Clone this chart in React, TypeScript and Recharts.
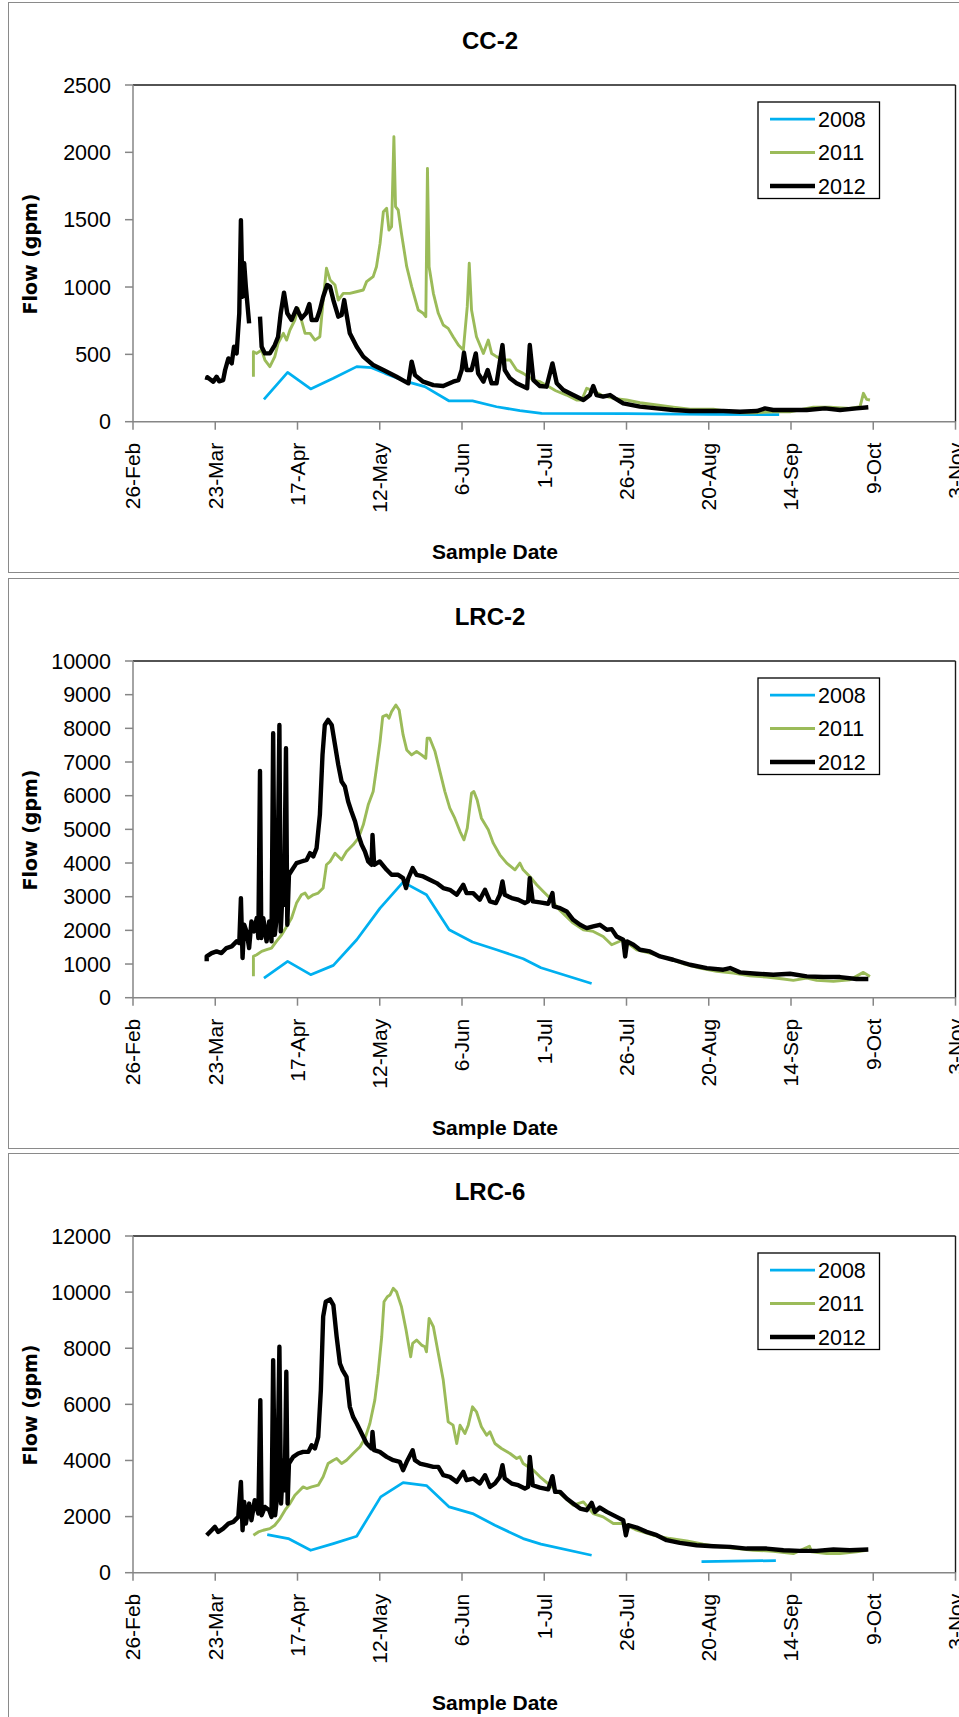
import React from 'react';
import { LineChart, Line, XAxis, YAxis, ReferenceLine } from 'recharts';

// Day offsets counted from 26-Feb; flow in gpm. [day, flow]; [day, null] marks a gap.
const X_TICK_DAYS = [0, 25, 50, 75, 100, 125, 150, 175, 200, 225, 250];
const X_TICK_LABELS = ['26-Feb', '23-Mar', '17-Apr', '12-May', '6-Jun', '1-Jul', '26-Jul', '20-Aug', '14-Sep', '9-Oct', '3-Nov'];

const CC2_Y_TICKS = [0, 500, 1000, 1500, 2000, 2500];
const LRC2_Y_TICKS = [0, 1000, 2000, 3000, 4000, 5000, 6000, 7000, 8000, 9000, 10000];
const LRC6_Y_TICKS = [0, 2000, 4000, 6000, 8000, 10000, 12000];

const SERIES_NAMES = ['2008', '2011', '2012'];

const CC2_2008: [number, number | null][] = [
  [39.8, 166], [47, 366], [54, 243], [60.9, 322], [68, 409], [72.5, 401], [76.6, 359], [83.2, 297], [88.7, 260],
  [96.1, 154], [103.2, 154], [110.5, 111], [117.6, 82], [124.2, 62], [150, 60], [175, 55], [196.4, 52],
];
const CC2_2011: [number, number | null][] = [
  [36.6, 334], [36.6, 520], [37.6, 507], [39.1, 532], [40.1, 458], [41.6, 409], [43.1, 483], [44.1, 582], [45.7, 656],
  [46.7, 606], [47.7, 681], [49.2, 755], [50.2, 842], [51.2, 755], [52.3, 656], [53.8, 656], [55.3, 606], [56.8, 631],
  [57.8, 903], [58.8, 1139], [59.9, 1052], [61.4, 1015], [62.4, 903], [63.9, 953], [65.9, 953], [67.9, 965], [70, 978],
  [71, 1040], [73, 1077], [74, 1151], [75.1, 1324], [76.1, 1559], [77.1, 1584], [77.8, 1423], [78.6, 1448], [79.3, 2116],
  [79.8, 1597], [80.6, 1572], [81.6, 1398], [83.2, 1151], [84.7, 1003], [86.7, 829], [88.2, 805], [89, 780], [89.5, 1881],
  [90, 1151], [91.3, 953], [92.8, 805], [94.3, 718], [95.8, 693], [97.3, 631], [98.9, 569], [100.4, 532], [101.6, 854],
  [102.2, 1176], [102.9, 829], [104.4, 631], [106.5, 507], [108, 606], [109, 507], [110.5, 483], [112.5, 458], [114.6, 458],
  [116.6, 384], [118.6, 359], [121.7, 309], [123.7, 297], [126.7, 255], [128.5, 230], [131.8, 198], [134.8, 161],
  [136.4, 161], [137.9, 248], [139.4, 235], [142.4, 198], [146, 173], [150, 161], [154.1, 141], [159.2, 124], [164.2, 107],
  [169.3, 92], [176.4, 92], [179.4, 82], [184.5, 67], [189.6, 67], [194.6, 74], [199.7, 74], [206.8, 107], [211.8, 107],
  [217.9, 99], [221, 112], [222, 211], [223, 166], [224, 161],
];
const CC2_2012: [number, number | null][] = [
  [22.4, 309], [22.6, 330], [24.4, 297], [25.4, 334], [26.2, 300], [27.4, 309], [28, 384], [29, 470], [30, 433],
  [30.7, 557], [31.5, 507], [32.3, 805], [32.8, 1497], [33.3, 928], [33.8, 1176], [34.3, 1002], [35.3, 730], [37, null],
  [38.6, 780], [39.1, 557], [40.1, 507], [41.6, 507], [43.1, 569], [44.1, 631], [44.9, 805], [45.9, 958], [46.9, 805],
  [48.2, 755], [49.7, 842], [51.2, 767], [52.6, 805], [53.6, 874], [54.3, 755], [55.8, 755], [56.8, 829], [57.8, 928],
  [59, 1015], [59.9, 1002], [60.9, 903], [62.4, 780], [63.4, 792], [64.2, 903], [64.7, 829], [65.9, 656], [68, 557],
  [70, 483], [73, 421], [76.1, 384], [80.1, 334], [83.7, 285], [84.7, 446], [85.7, 346], [88.2, 297], [91.3, 272],
  [94.3, 265], [97.3, 297], [98.9, 309], [99.9, 384], [100.6, 512], [101.4, 384], [102.9, 384], [104.2, 507], [104.9, 359],
  [106.5, 297], [107.8, 384], [109, 285], [110.5, 285], [112.3, 569], [113, 384], [114.6, 322], [116.6, 285], [119.8, 248],
  [120.6, 569], [121.7, 309], [123.7, 265], [125.7, 260], [127.5, 433], [128.8, 285], [130.8, 235], [133.8, 198],
  [136.9, 161], [138.9, 198], [139.9, 265], [140.9, 198], [142.9, 186], [145, 198], [146.5, 173], [149, 136], [154.1, 112],
  [159.2, 99], [164.2, 87], [169.3, 79], [174.4, 79], [179.4, 79], [184.5, 74], [189.6, 79], [192.1, 99], [194.6, 87],
  [199.7, 87], [204.8, 87], [210.3, 99], [214.9, 87], [219.9, 99], [223.5, 107],
];

const LRC2_2008: [number, number | null][] = [
  [39.8, 585], [47, 1079], [54, 684], [60.9, 960], [68, 1722], [75.1, 2662], [82.1, 3433], [89.2, 3057], [96.1, 2019],
  [103.2, 1653], [110.5, 1425], [118.6, 1158], [124, 890], [139.4, 420],
];
const LRC2_2011: [number, number | null][] = [
  [36.6, 634], [36.6, 1228], [37.6, 1277], [39.1, 1376], [40.6, 1425], [42.1, 1475], [43.6, 1673], [45.2, 1870],
  [46.7, 2117], [48.2, 2365], [49.7, 2810], [51.2, 3057], [52.3, 3107], [53.3, 2958], [54.8, 3057], [56.3, 3107],
  [57.8, 3255], [58.8, 3947], [59.9, 4046], [61.4, 4293], [62.4, 4195], [63.4, 4096], [64.9, 4343], [66.9, 4541],
  [68.5, 4739], [70, 5134], [71.5, 5728], [73, 6123], [74, 6816], [75.1, 7607], [75.9, 8349], [77.1, 8398], [77.8, 8299],
  [78.6, 8497], [79.9, 8694], [80.9, 8546], [82.1, 7804], [83.2, 7359], [84.7, 7211], [86.2, 7310], [87.7, 7211],
  [89, 7112], [89.4, 7705], [90.2, 7705], [91.8, 7310], [93.3, 6717], [94.8, 6123], [96.3, 5629], [97.8, 5332],
  [99.4, 4936], [100.6, 4689], [101.6, 5035], [102.9, 6074], [103.6, 6123], [104.6, 5876], [105.9, 5332], [108, 4986],
  [109.5, 4590], [111.5, 4244], [113.6, 3997], [116.1, 3799], [117.6, 3997], [118.6, 3799], [120.6, 3601], [122.7, 3354],
  [124.7, 3156], [126.7, 2958], [129.8, 2590], [133.8, 2216], [136.9, 2018], [139.9, 1968], [142.9, 1820], [145.5, 1573],
  [149, 1721], [153.1, 1424], [157.1, 1325], [162.2, 1177], [167.3, 1009], [172.3, 880], [177.4, 781], [182.5, 732],
  [187.5, 653], [192.6, 613], [197.7, 554], [200.7, 514], [204.8, 584], [207.8, 514], [212.9, 485], [217.9, 534],
  [222, 752], [224, 633],
];
const LRC2_2012: [number, number | null][] = [
  [22.4, 1079], [22.4, 1228], [23.9, 1326], [25.4, 1376], [26.9, 1326], [28.4, 1475], [30, 1524], [31.5, 1673],
  [32.3, 1623], [32.8, 2958], [33.3, 1178], [33.8, 2167], [34.5, 1969], [35.3, 1475], [36, 2266], [36.8, 1969],
  [37.6, 2365], [38.1, 1771], [38.6, 6736], [39, 1771], [39.6, 2365], [40.6, 1673], [41.4, 2266], [42.1, 1673],
  [42.6, 7854], [43.1, 1870], [43.8, 2464], [44.5, 8101], [44.9, 1969], [45.5, 3255], [45.9, 2761], [46.5, 7409],
  [46.9, 2167], [47.4, 3650], [48.7, 3848], [49.7, 3997], [51.2, 4046], [52.8, 4096], [53.8, 4293], [54.8, 4195],
  [55.8, 4442], [56.8, 5431], [57.6, 7211], [58.3, 8101], [59.3, 8250], [60.4, 8101], [61.4, 7508], [62.4, 6914],
  [63.4, 6420], [64.4, 6271], [65.4, 5826], [66.4, 5530], [67.5, 5233], [68.5, 4837], [69.5, 4541], [70.5, 4343],
  [71.5, 4046], [72.5, 3947], [72.8, 4837], [73.3, 3947], [75, 4046], [77.1, 3799], [78.6, 3650], [80.6, 3650],
  [82.1, 3552], [83, 3255], [83.7, 3552], [85, 3848], [86.2, 3650], [88.2, 3601], [90.2, 3502], [92.3, 3403],
  [94.3, 3255], [96.3, 3205], [98.4, 3057], [100.4, 3354], [101.4, 3107], [103.4, 3107], [105.4, 2909], [107, 3205],
  [108.5, 2860], [110.3, 2810], [111.5, 3057], [112.3, 3453], [113, 3057], [115.1, 2958], [117.1, 2909], [119.1, 2810],
  [120.1, 2860], [120.6, 3552], [121.5, 2860], [123.7, 2830], [126.2, 2790], [127.5, 3106], [127.9, 2710], [129.8, 2661],
  [131.8, 2562], [133.8, 2314], [135.9, 2166], [137.9, 2067], [139.9, 2117], [141.9, 2166], [144, 2018], [145.5, 2037],
  [147, 1820], [149, 1721], [149.6, 1226], [150.2, 1672], [152.1, 1573], [154.1, 1424], [157.1, 1375], [160.2, 1226],
  [164.2, 1127], [169.3, 979], [174.4, 880], [179.4, 831], [181.5, 880], [184.5, 752], [189.6, 712], [194.6, 683],
  [199.7, 712], [204.8, 633], [209.8, 613], [214.9, 613], [219.9, 554], [223.5, 554],
];

const LRC6_2008: [number, number | null][] = [
  [40.8, 1359], [47.2, 1216], [54, 800], [60.9, 1038], [68, 1299], [75.3, 2702], [82.1, 3213], [89.2, 3106],
  [96.1, 2345], [103.2, 2108], [110, 1691], [118.6, 1216], [124, 1020], [139.4, 622], [156, null], [172.8, 397], [195.4, 432],
];
const LRC6_2011: [number, number | null][] = [
  [36.6, 1335], [38.1, 1453], [39.6, 1513], [41.6, 1572], [43.1, 1691], [44.7, 1929], [46.2, 2227], [47.7, 2464],
  [49.2, 2761], [50.7, 2940], [51.7, 3059], [52.8, 3000], [54.3, 3059], [56.3, 3118], [57.8, 3416], [59.3, 3891],
  [60.9, 4010], [61.9, 4070], [63.4, 3891], [64.9, 4010], [66.9, 4248], [69, 4486], [70.5, 4783], [72, 5318],
  [73.5, 6150], [74.5, 7101], [75.6, 8409], [76.3, 9658], [77.3, 9836], [78.1, 9896], [79.1, 10133], [80.1, 10014],
  [81.6, 9479], [83, 8647], [83.7, 8171], [84.4, 7696], [85, 8171], [86.2, 8290], [87.7, 8112], [88.7, 8053],
  [89.2, 7874], [90, 9063], [91.3, 8766], [92.8, 7815], [94.3, 6864], [95.8, 5377], [97.3, 5258], [98.4, 4604],
  [99.4, 5258], [100.9, 4961], [101.9, 5258], [103.2, 5912], [104.4, 5734], [105.9, 5199], [107.5, 4902], [108.5, 5020],
  [110, 4604], [112, 4426], [114.6, 4248], [116.6, 4070], [117.6, 4129], [118.6, 3891], [121.7, 3653], [123.7, 3417],
  [126.7, 3119], [129.8, 2822], [133.8, 2406], [136.9, 2525], [139.9, 2109], [142.9, 1990], [146, 1752], [149, 1752],
  [153.1, 1514], [158.1, 1336], [163.2, 1217], [168.3, 1134], [173.3, 1015], [178.4, 920], [183.5, 860], [188.5, 801],
  [194.6, 765], [200.7, 682], [205.6, 944], [206.3, 741], [210.8, 682], [214.9, 682], [219.9, 741], [223, 801],
];
const LRC6_2012: [number, number | null][] = [
  [22.4, 1335], [23.9, 1513], [24.9, 1632], [25.9, 1453], [27.4, 1572], [29, 1751], [30.5, 1810], [32, 1989],
  [32.8, 3237], [33.3, 1513], [33.8, 2524], [34.3, 1751], [35.3, 2464], [36, 1870], [37, 2583], [38.1, 2108],
  [38.7, 6150], [39.1, 2048], [40.1, 2345], [41.4, 2227], [42.1, 1989], [42.6, 7577], [43.2, 2048], [43.8, 2702],
  [44.5, 8053], [45, 2464], [45.7, 4010], [46.1, 2940], [46.6, 7161], [47, 2464], [47.4, 3891], [48.7, 4129],
  [50.2, 4248], [51.7, 4307], [53.3, 4307], [54.3, 4545], [55.3, 4426], [56.3, 4842], [57.1, 6507], [57.8, 9123],
  [58.6, 9658], [59.9, 9741], [60.9, 9539], [61.9, 8409], [62.9, 7458], [63.7, 7220], [64.9, 6982], [65.9, 5912],
  [66.9, 5555], [68, 5318], [69.5, 4961], [71, 4604], [72.5, 4426], [72.8, 5020], [73.3, 4366], [75, 4307],
  [77.1, 4129], [79.1, 4010], [81.1, 3950], [82.1, 3653], [83.2, 3950], [85, 4366], [85.7, 4010], [87.2, 3891],
  [89.2, 3832], [91.3, 3772], [92.8, 3772], [94.3, 3475], [96.3, 3416], [98.4, 3237], [100.4, 3594], [101.4, 3297],
  [103.4, 3356], [105.4, 3178], [107, 3475], [108.5, 3059], [110, 3178], [111.5, 3416], [112.3, 3832], [113, 3356],
  [115.1, 3178], [117.1, 3118], [119.1, 2999], [120.1, 3059], [120.6, 4129], [121.5, 3118], [123.7, 3030], [126.2, 2970],
  [127.5, 3440], [128.3, 2882], [129.8, 2882], [131.8, 2644], [133.8, 2466], [135.9, 2287], [137.9, 2228], [139.4, 2489],
  [140.4, 2168], [141.9, 2323], [144, 2168], [147, 1990], [149, 1871], [149.8, 1336], [150.5, 1693], [153.1, 1609],
  [156.1, 1455], [159.2, 1336], [162.2, 1158], [166.2, 1062], [171.3, 979], [176.4, 944], [181.5, 920], [186.5, 860],
  [192.6, 860], [197.7, 801], [202.7, 777], [207.8, 777], [212.9, 825], [217.9, 801], [223.5, 825],
];

const PANEL_DEFS = [
  { title: 'CC-2', yTicks: CC2_Y_TICKS, series: [CC2_2008, CC2_2011, CC2_2012] },
  { title: 'LRC-2', yTicks: LRC2_Y_TICKS, series: [LRC2_2008, LRC2_2011, LRC2_2012] },
  { title: 'LRC-6', yTicks: LRC6_Y_TICKS, series: [LRC6_2008, LRC6_2011, LRC6_2012] },
];

const COLORS = ['#00B0F0', '#9BBB59', '#000000'];
const WIDTHS = [2.75, 2.9, 4.4];
const PANEL_TOPS = [2, 578, 1153];
const FONT = '"Liberation Sans", Arial, sans-serif';
const W = 959;
const H = 571;

const toPoints = (arr: [number, number | null][]) => arr.map(([x, y]) => ({ x, y }));

const XTick = (props: any) => {
  const { x, y, payload } = props;
  const idx = X_TICK_DAYS.indexOf(payload.value);
  return (
    <text
      x={x}
      y={y}
      transform={`rotate(-90, ${x}, ${y})`}
      textAnchor="end"
      dy="0.35em"
      fontSize={21}
      fontFamily={FONT}
      fill="#000"
    >
      {X_TICK_LABELS[idx]}
    </text>
  );
};

const LegendBox = () => (
  <svg
    width={124}
    height={99}
    style={{ position: 'absolute', left: 757, top: 99 }}
  >
    <rect x={1} y={1} width={121.5} height={96.5} fill="#fff" stroke="#000" strokeWidth={1.3} />
    {SERIES_NAMES.map((name, i) => (
      <g key={name}>
        <line x1={13} x2={58} y1={18 + i * 33.5} y2={18 + i * 33.5} stroke={COLORS[i]} strokeWidth={WIDTHS[i]} />
        <text x={61} y={18 + i * 33.5} dy="0.36em" fontSize={21.5} fontFamily={FONT} fill="#000">
          {name}
        </text>
      </g>
    ))}
  </svg>
);

const Panel = ({ def, top }: { def: typeof PANEL_DEFS[number]; top: number }) => {
  const yMax = def.yTicks[def.yTicks.length - 1];
  return (
    <div style={{ position: 'absolute', left: 0, top, width: W, height: H }}>
      <div
        style={{
          position: 'absolute',
          left: 8,
          top: 0,
          width: 964,
          height: H - 2,
          border: '1px solid #8a8a8a',
          background: '#fff',
        }}
      />
      <div style={{ position: 'absolute', left: 0, top: 0 }}>
        <LineChart width={W} height={H} margin={{ top: 83, right: 3.5, bottom: 31.3, left: 73 }}>
          <XAxis
            type="number"
            dataKey="x"
            domain={[0, 250]}
            ticks={X_TICK_DAYS}
            interval={0}
            allowDataOverflow
            height={120}
            tickSize={8}
            tickMargin={13}
            stroke="#868686"
            strokeWidth={1.5}
            tick={<XTick />}
          />
          <YAxis
            type="number"
            domain={[0, yMax]}
            ticks={def.yTicks}
            interval={0}
            allowDataOverflow
            width={60}
            tickSize={8}
            tickMargin={14}
            stroke="#868686"
            strokeWidth={1.5}
            tick={{ fontSize: 21.5, fill: '#000', fontFamily: FONT }}
          />
          <ReferenceLine y={yMax} stroke="#1a1a1a" strokeWidth={1.4} />
          <ReferenceLine x={250} stroke="#1a1a1a" strokeWidth={1.4} />
          {def.series.map((s, i) => (
            <Line
              key={SERIES_NAMES[i]}
              name={SERIES_NAMES[i]}
              data={toPoints(s)}
              dataKey="y"
              type="linear"
              stroke={COLORS[i]}
              strokeWidth={WIDTHS[i]}
              strokeLinejoin="round"
              dot={false}
              activeDot={false}
              isAnimationActive={false}
            />
          ))}
        </LineChart>
      </div>
      <div
        style={{
          position: 'absolute',
          left: 290,
          width: 400,
          top: 24,
          height: 30,
          lineHeight: '30px',
          textAlign: 'center',
          fontFamily: FONT,
          fontWeight: 'bold',
          fontSize: 24,
        }}
      >
        {def.title}
      </div>
      <div
        style={{
          position: 'absolute',
          left: 295,
          width: 400,
          top: 535,
          height: 30,
          lineHeight: '30px',
          textAlign: 'center',
          fontFamily: FONT,
          fontWeight: 'bold',
          fontSize: 21,
        }}
      >
        Sample Date
      </div>
      <div
        style={{
          position: 'absolute',
          left: 30 - 100,
          width: 200,
          top: 252 - 13,
          height: 26,
          lineHeight: '26px',
          textAlign: 'center',
          fontFamily: '"DejaVu Sans", Verdana, sans-serif',
          fontWeight: 'bold',
          fontSize: 19,
          transform: 'rotate(-90deg)',
        }}
      >
        Flow (gpm)
      </div>
      <LegendBox />
    </div>
  );
}

export default function App() {
  return (
    <div
      style={{
        position: 'absolute',
        left: 0,
        top: 0,
        width: 959,
        height: 1717,
        overflow: 'hidden',
        background: '#fff',
      }}
    >
      {PANEL_DEFS.map((def, i) => (
        <Panel key={def.title} def={def} top={PANEL_TOPS[i]} />
      ))}
    </div>
  );
}
